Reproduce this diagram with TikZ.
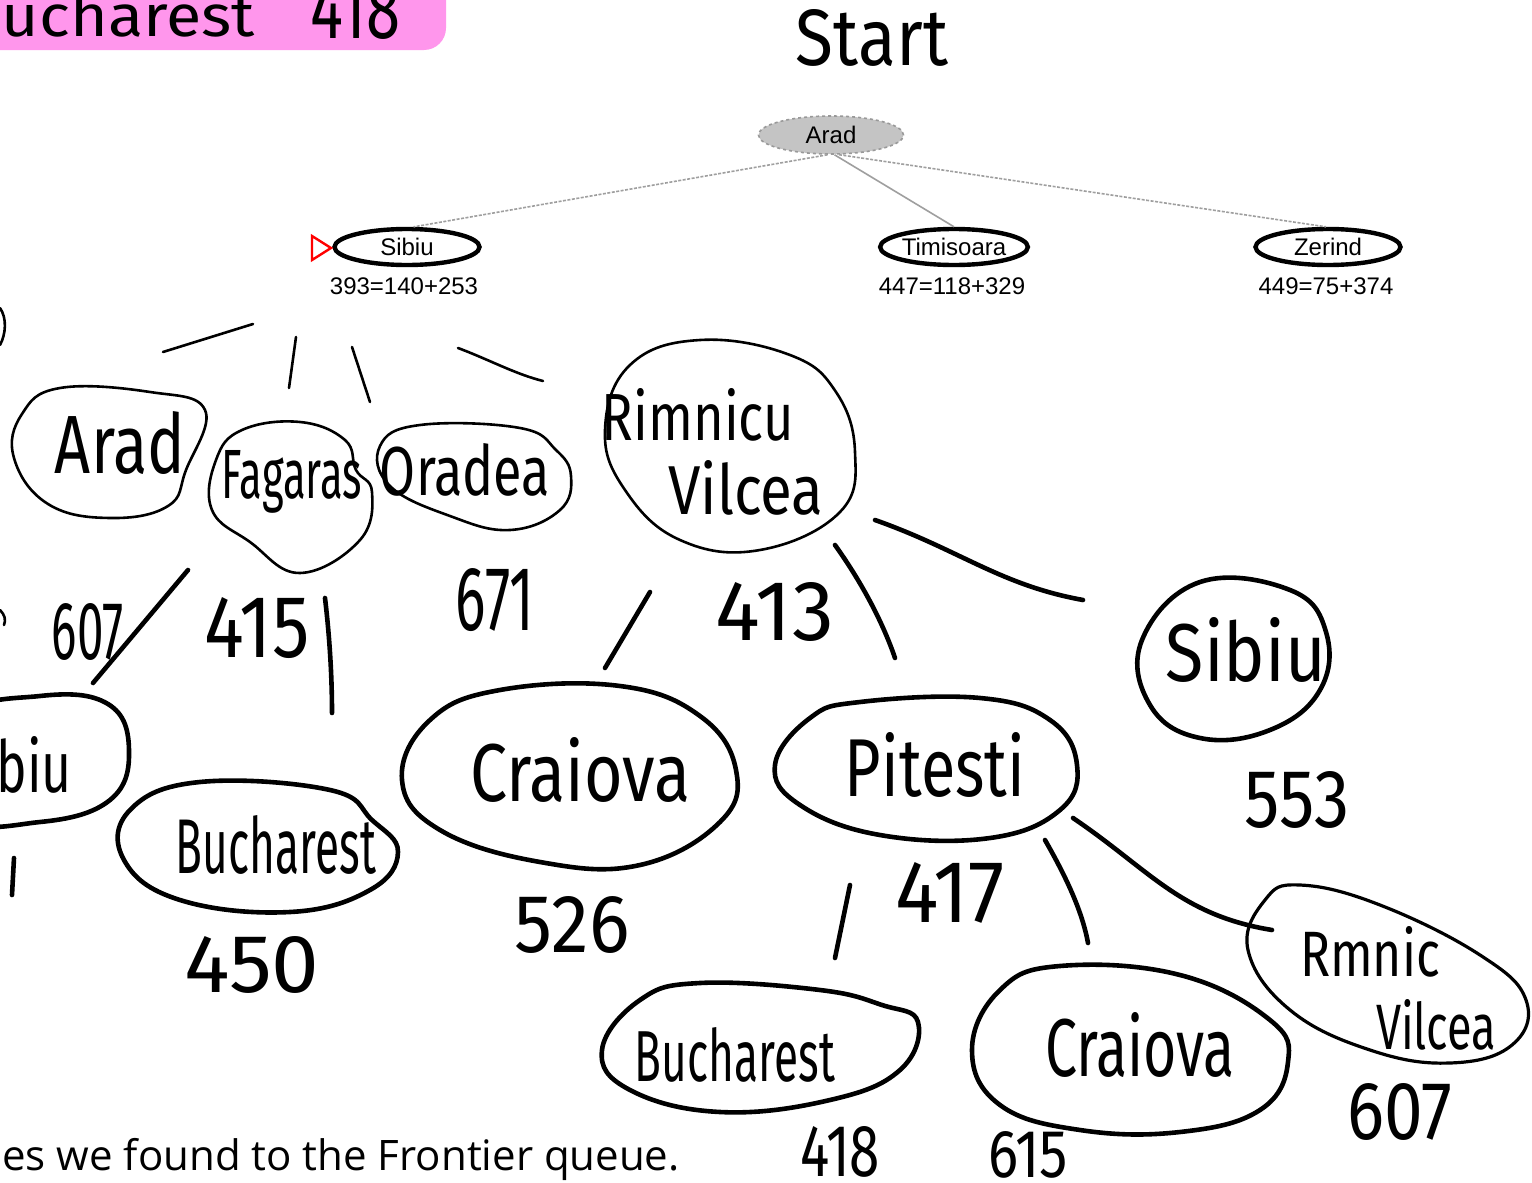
\documentclass[tikz,border=0pt]{standalone}
\usepackage{fontspec}
\usepackage{graphicx}
\setmainfont{Liberation Sans}
\newfontfamily\handfont{Fira Sans}
\newfontfamily\notefont{Open Sans}
\newfontfamily\treefont{Liberation Sans}
\definecolor{marker}{RGB}{255,150,236}
\definecolor{treegray}{RGB}{196,196,196}
% handwritten word squeezed into a given width and height (pt)
\newcommand{\hw}[3]{\resizebox{#1pt}{#2pt}{\handfont #3}}
\tikzset{
  treeell/.style={ellipse, draw=black, line width=4.4pt, minimum width=145, minimum height=36,
    inner sep=0pt, font=\treefont\fontsize{24}{24}\selectfont},
  treelabel/.style={font=\treefont\fontsize{24}{24}\selectfont, inner sep=0pt},
  treeedge/.style={draw=gray!75, line width=1.6pt},
  hand/.style={inner sep=0pt},
  inkthin/.style={line width=2.6pt, line cap=round, line join=round},
  inkthick/.style={line width=4.6pt, line cap=round, line join=round},
}
\usetikzlibrary{shapes.geometric}
\begin{document}
\begin{tikzpicture}[x=1pt,y=-1pt]
\useasboundingbox (0,0) rectangle (1532,1183);
\clip (0,0) rectangle (1532,1183);
\fill[white] (0,0) rectangle (1532,1183);

% highlighted note, top left
\fill[marker, rounded corners=22pt] (-30,-40) rectangle (446,50);
\node[hand, anchor=base east] (notegoal) at (255,36) {\hw{292}{44}{Bucharest}};
\node[hand, anchor=base west] (notecost) at (310,38) {\hw{90}{56}{418}};

% heading
\node[hand] (start) at (872,38) {\hw{152}{56}{Start}};

% printed search tree
\node[treeell, fill=treegray, draw=gray!80, line width=1.6pt, dashed, minimum height=38] (arad) at (831,135) {Arad};
\node[treeell] (sibiu) at (407,247) {Sibiu};
\node[treeell] (timi) at (954,247) {Timisoara};
\node[treeell] (zerind) at (1328,247) {Zerind};
\node[treelabel] (fsibiu) at (404,286) {393=140+253};
\node[treelabel] (ftimi) at (952,286) {447=118+329};
\node[treelabel] (fzerind) at (1326,286) {449=75+374};
\draw[treeedge, dash pattern=on 3pt off 1.5pt] (arad.-100) -- (sibiu.72);
\draw[treeedge] (arad.-80) -- (timi.north);
\draw[treeedge, dash pattern=on 3pt off 1.5pt] (arad.-68) -- (zerind.96);
\draw[red, line width=2.4pt, line join=miter] (312,236) -- (331,248) -- (312,260) -- cycle;

% handwritten expansion of Sibiu
\draw[inkthin] (0,308) .. controls (7,318) and (6,334) .. (0,345);
\draw[inkthin] (163,352) -- (253,324);
\draw[inkthin] (296,337) -- (289,388);
\draw[inkthin] (352,347) -- (370,402);
\draw[inkthin] (458,348) .. controls (490,360) and (515,374) .. (543,381);

\draw[inkthin] plot[smooth cycle, tension=0.7] coordinates {(60,388) (150,392) (205,410) (186,470) (168,506) (110,518) (48,504) (14,458) (22,414)};
\node[hand] (n-arad) at (120,443) {\hw{130}{62}{Arad}};

\draw[inkthin] plot[smooth cycle, tension=0.7] coordinates {(242,430) (300,422) (345,440) (356,470) (372,492) (360,540) (300,573) (250,542) (212,510) (216,460)};
\node[hand, anchor=base] (n-fagaras) at (292,498) {\hw{140}{48}{Fagaras}};

\draw[inkthin] plot[smooth cycle, tension=0.7] coordinates {(420,425) (520,428) (556,450) (571,476) (560,510) (510,530) (450,516) (390,486) (380,446)};
\node[hand] (n-oradea) at (465,470) {\hw{170}{52}{Oradea}};

\draw[inkthin] plot[smooth cycle, tension=0.7] coordinates {(700,340) (790,355) (836,392) (855,452) (840,512) (760,550) (680,540) (625,490) (605,430) (630,365)};
\node[hand] (n-rimnicu) at (698,415) {\hw{192}{52}{Rimnicu}};
\node[hand] (n-vilcea) at (746,488) {\hw{155}{54}{Vilcea}};

\node[hand] (c-arad) at (88,632) {\hw{72}{56}{607}};
\node[hand] (c-fagaras) at (257,628) {\hw{105}{60}{415}};
\node[hand] (c-oradea) at (495,600) {\hw{78}{62}{671}};
\node[hand] (c-rimnicu) at (775,612) {\hw{118}{58}{413}};

% handwritten expansion of Fagaras
\draw[inkthin] (0,610) .. controls (5,615) and (6,620) .. (4,625);
\draw[inkthick] (188,570) -- (93,683);
\draw[inkthick] (325,598) .. controls (330,640) and (332,680) .. (332,713);

\draw[inkthick] plot[smooth cycle, tension=0.7] coordinates {(-40,720) (40,696) (108,704) (129,750) (110,800) (40,822) (-40,815)};
\node[hand, anchor=east] (n-sibiu1) at (72,765) {\hw{118}{56}{Sibiu}};
\draw[inkthick] (14,858) -- (12,895);

\draw[inkthick] plot[smooth cycle, tension=0.7] coordinates {(200,782) (330,790) (372,820) (398,852) (370,890) (290,912) (180,900) (124,860) (130,810)};
\node[hand] (n-buch1) at (276,845) {\hw{200}{58}{Bucharest}};
\node[hand] (c-buch1) at (252,965) {\hw{135}{56}{450}};

% handwritten expansion of Rimnicu Vilcea
\draw[inkthick] (650,592) -- (605,668);
\draw[inkthick] (835,545) .. controls (860,580) and (882,620) .. (895,658);
\draw[inkthick] (875,520) .. controls (960,550) and (1000,585) .. (1083,600);

\draw[inkthick] plot[smooth cycle, tension=0.7] coordinates {(500,690) (620,686) (700,716) (736,770) (720,822) (640,865) (540,862) (440,830) (402,780) (430,720)};
\node[hand] (n-craiova1) at (580,770) {\hw{220}{64}{Craiova}};
\node[hand] (c-craiova1) at (572,925) {\hw{115}{56}{526}};

\draw[inkthick] plot[smooth cycle, tension=0.7] coordinates {(860,702) (980,698) (1050,720) (1077,765) (1060,810) (990,838) (880,835) (800,805) (775,765) (810,718)};
\node[hand] (n-pitesti) at (935,765) {\hw{180}{64}{Pitesti}};
\node[hand] (c-pitesti) at (950,893) {\hw{110}{60}{417}};

\draw[inkthick] plot[smooth cycle, tension=0.7] coordinates {(1200,582) (1290,590) (1326,632) (1320,690) (1270,730) (1200,738) (1150,705) (1142,640)};
\node[hand] (n-sibiu2) at (1246,650) {\hw{160}{64}{Sibiu}};
\node[hand] (c-sibiu2) at (1297,800) {\hw{105}{56}{553}};

% handwritten expansion of Pitesti
\draw[inkthick] (850,885) -- (835,958);
\draw[inkthick] (1045,840) .. controls (1065,875) and (1082,910) .. (1088,943);
\draw[inkthick] (1073,818) .. controls (1150,870) and (1180,915) .. (1272,930);

\draw[inkthick] plot[smooth cycle, tension=0.7] coordinates {(700,983) (820,990) (882,1005) (918,1022) (900,1070) (830,1100) (720,1112) (630,1090) (602,1050) (640,1000)};
\node[hand] (n-buch2) at (735,1055) {\hw{200}{54}{Bucharest}};
\node[hand] (c-buch2) at (840,1152) {\hw{80}{50}{418}};

\draw[inkthick] plot[smooth cycle, tension=0.7] coordinates {(1060,966) (1180,975) (1270,1020) (1288,1062) (1260,1110) (1180,1132) (1080,1130) (1000,1105) (972,1050) (1000,990)};
\node[hand] (n-craiova2) at (1140,1045) {\hw{190}{64}{Craiova}};
\node[hand] (c-craiova2) at (1028,1155) {\hw{80}{46}{615}};

\draw[inkthin, line width=3.2pt] plot[smooth cycle, tension=0.7] coordinates {(1300,885) (1380,905) (1480,955) (1526,1000) (1512,1045) (1450,1063) (1370,1050) (1290,1010) (1248,950) (1265,900)};
\node[hand] (n-rimnicu2) at (1370,952) {\hw{140}{50}{Rmnic}};
\node[hand] (n-vilcea2) at (1436,1025) {\hw{120}{50}{Vilcea}};
\node[hand] (c-rimnicu2) at (1400,1112) {\hw{105}{56}{607}};

% caption fragment
\node[anchor=base west, inner sep=0pt] (caption) at (2,1170) {\notefont\fontsize{42}{42}\selectfont es we found to the Frontier queue.};
\end{tikzpicture}
\end{document}
